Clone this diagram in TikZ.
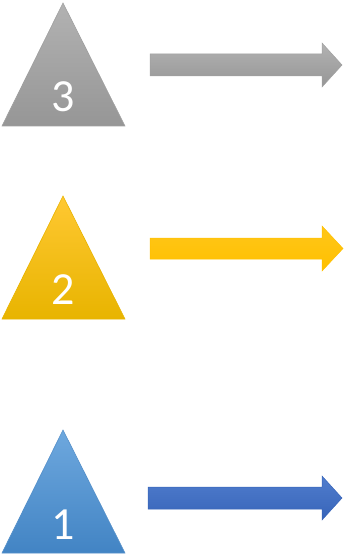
\documentclass[tikz,border=0pt]{standalone}
\usepackage{fontspec}
\setmainfont{Carlito}
\definecolor{grayA}{RGB}{178,178,178}
\definecolor{grayB}{RGB}{150,150,150}
\definecolor{grayC}{RGB}{163,163,163}
\definecolor{goldA}{RGB}{255,200,50}
\definecolor{goldB}{RGB}{232,180,0}
\definecolor{goldC}{RGB}{255,192,0}
\definecolor{blueA}{RGB}{110,168,222}
\definecolor{blueB}{RGB}{66,132,196}
\definecolor{arrA}{RGB}{80,125,205}
\definecolor{arrB}{RGB}{55,100,185}
\begin{document}
\begin{tikzpicture}[x=1pt,y=-1pt,
  numlabel/.style={text=white,font=\fontsize{46}{46}\selectfont,inner sep=0pt,anchor=base}]
\useasboundingbox (0,0) rectangle (343,556);
% triangle 3
\coordinate (t3a) at (63,3);
\coordinate (t3l) at (2,126);
\coordinate (t3r) at (125,126);
\shade[top color=grayA,bottom color=grayB,draw=grayB!90!white,line width=0.6pt] (t3a) -- (t3r) -- (t3l) -- cycle;
\node[numlabel] (n3) at (63,112) {3};
% arrow 3
\shade[top color=grayA,bottom color=grayB,draw=grayB!90!white,line width=0.5pt]
  (150,54) -- (322,54) -- (322,43) -- (342,65) -- (322,87) -- (322,76) -- (150,76) -- cycle;
% triangle 2
\coordinate (t2a) at (63,196);
\coordinate (t2l) at (2,319);
\coordinate (t2r) at (125,319);
\shade[top color=goldA,bottom color=goldB,draw=goldB,line width=0.6pt] (t2a) -- (t2r) -- (t2l) -- cycle;
\node[numlabel] (n2) at (63,304) {2};
% arrow 2
\shade[top color=goldC!90!white,bottom color=goldC,draw=goldC,line width=0.5pt]
  (150,238) -- (322,238) -- (322,226) -- (343,248.5) -- (322,271) -- (322,259) -- (150,259) -- cycle;
% triangle 1
\coordinate (t1a) at (63,430);
\coordinate (t1l) at (2,553);
\coordinate (t1r) at (125,553);
\shade[top color=blueA,bottom color=blueB,draw=blueB!90!white,line width=0.6pt] (t1a) -- (t1r) -- (t1l) -- cycle;
\node[numlabel] (n1) at (63,539) {1};
% arrow 1
\shade[top color=arrA,bottom color=arrB,draw=arrB,line width=0.5pt]
  (148,487) -- (322,487) -- (322,476) -- (342,498) -- (322,520) -- (322,509) -- (148,509) -- cycle;
\end{tikzpicture}
\end{document}
